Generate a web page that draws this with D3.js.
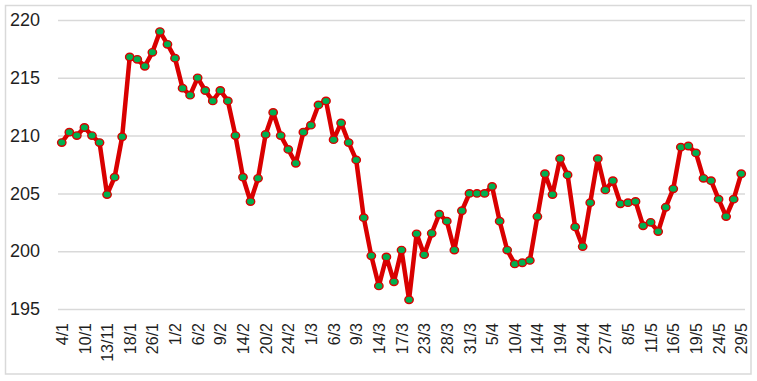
<!DOCTYPE html>
<html>
<head>
<meta charset="utf-8">
<script src="https://cdn.jsdelivr.net/npm/d3@7"></script>
<style>
  html, body { margin: 0; padding: 0; background: #fff; }
  svg { display: block; }
</style>
</head>
<body>
<svg id="chart" width="757" height="381"></svg>
<script>
// ---- data ----
const tickLabels = ["4/1","10/1","13/11","18/1","26/1","1/2","6/2","9/2","14/2","20/2","24/2",
  "1/3","6/3","9/3","14/3","17/3","23/3","28/3","31/3","5/4","10/4","14/4","19/4","24/4",
  "27/4","8/5","11/5","16/5","19/5","24/5","29/5"];
const values = [
  209.4, 210.3, 210.0, 210.7, 210.0, 209.4, 204.9, 206.4, 209.9, 216.8,
  216.6, 216.0, 217.2, 219.0, 217.9, 216.7, 214.1, 213.5, 215.0, 213.9,
  213.0, 213.9, 213.0, 210.0, 206.4, 204.3, 206.3, 210.1, 212.0, 210.0,
  208.8, 207.6, 210.3, 210.9, 212.65, 213.0, 209.65, 211.1, 209.4, 207.9,
  202.9, 199.6, 197.0, 199.5, 197.35, 200.1, 195.8, 201.5, 199.7, 201.55,
  203.2, 202.6, 200.1, 203.5, 205.0, 205.0, 205.0, 205.6, 202.6, 200.1,
  198.9, 199.0, 199.2, 203.0, 206.7, 204.9, 208.0, 206.6, 202.1, 200.4,
  204.2, 208.0, 205.3, 206.1, 204.1, 204.2, 204.3, 202.2, 202.5, 201.7,
  203.8, 205.4, 209.0, 209.1, 208.5, 206.3, 206.1, 204.5, 203.0, 204.5,
  206.7
];
const yTicks = [195, 200, 205, 210, 215, 220];
const labelEvery = 3;

// ---- layout ----
const svg = d3.select("#chart");
const plot = { left: 58, right: 745, top: 20, bottom: 309 };

svg.append("rect")
  .attr("x", 5.5).attr("y", 5.5).attr("width", 745.5).attr("height", 368.5)
  .attr("fill", "#fff").attr("stroke", "#d9d9d9").attr("stroke-width", 1.5);

const idx = d3.range(values.length);
const x = d3.scalePoint().domain(idx).range([plot.left, plot.right]).padding(0.5);
const y = d3.scaleLinear().domain([195, 220]).range([plot.bottom, plot.top]);

// gridlines
const yAxis = d3.axisLeft(y).tickValues(yTicks).tickSize(-(plot.right - plot.left)).tickPadding(18).tickFormat(d3.format("d"));
const gy = svg.append("g").attr("transform", `translate(${plot.left},0)`).call(yAxis);
gy.select(".domain").remove();
gy.selectAll(".tick line").attr("stroke", "#d9d9d9").attr("stroke-width", 1.5);
gy.selectAll(".tick text")
  .attr("font-family", "Liberation Sans, Arial, sans-serif")
  .attr("font-size", 18).attr("fill", "#1f1f1f");

// x axis labels
const xAxis = d3.axisBottom(x)
  .tickValues(idx.filter(i => i % labelEvery === 0))
  .tickFormat(i => tickLabels[i / labelEvery])
  .tickSize(0).tickPadding(0);
const gx = svg.append("g").attr("transform", `translate(0,${plot.bottom})`).call(xAxis);
gx.select(".domain").remove();
gx.selectAll(".tick text")
  .attr("font-family", "Liberation Sans, Arial, sans-serif")
  .attr("font-size", 16).attr("fill", "#1f1f1f")
  .attr("transform", "rotate(-90)")
  .attr("text-anchor", "end")
  .attr("dy", "0.35em")
  .attr("x", -14).attr("y", 0);

// line
const line = d3.line().x((d, i) => x(i)).y(d => y(d));
svg.append("path").datum(values)
  .attr("d", line).attr("fill", "none")
  .attr("stroke", "#d90000").attr("stroke-width", 4.5)
  .attr("stroke-linejoin", "round");

// markers
svg.append("g").selectAll("ellipse").data(values).join("ellipse")
  .attr("cx", (d, i) => x(i)).attr("cy", d => y(d))
  .attr("rx", 4.2).attr("ry", 3.7)
  .attr("fill", "#00b050").attr("stroke", "#d90000").attr("stroke-width", 1.4);
</script>
</body>
</html>
